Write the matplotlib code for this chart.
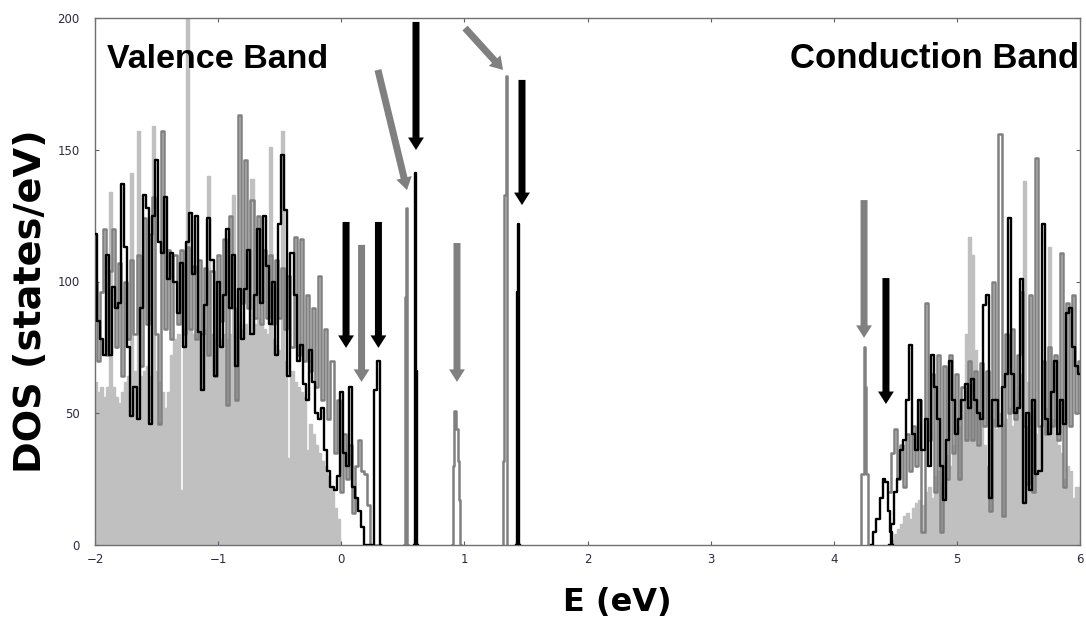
import numpy as np
import matplotlib
matplotlib.use('Agg')
import matplotlib.pyplot as plt

# energy grid step (eV) used for the band regions
e_step = 0.025
vb_e0 = -2.0
cb_e0 = 4.45

# valence band DOS (states/eV)
black_vb = [118, 85, 78, 72, 110, 72, 98, 90, 92, 137, 113, 75, 49, 60, 48, 90,
            133, 128, 46, 125, 146, 115, 111, 132, 101, 111, 100, 88, 107, 75, 115, 126,
            103, 125, 81, 59, 91, 124, 108, 64, 100, 75, 95, 120, 90, 110, 68, 97,
            78, 97, 112, 80, 95, 120, 92, 125, 106, 84, 100, 72, 122, 148, 127,
            64, 111, 95, 70, 76, 61, 55, 74, 62, 50, 48, 52, 36, 28, 22, 21,
            26, 58, 35, 30, 60, 22, 18, 13, 7, 0, 0, 0, 59, 70, 0]
gray_vb = [100, 70, 96, 120, 72, 104, 120, 75, 107, 64, 100, 78, 108, 80, 110, 68,
           124, 84, 118, 132, 80, 46, 157, 82, 112, 78, 110, 84, 112, 80, 113, 82,
           106, 78, 108, 80, 105, 72, 104, 64, 110, 85, 116, 53, 125, 90, 55, 163,
           92, 146, 90, 131, 86, 125, 84, 112, 86, 110, 84, 108, 86, 105, 82,
           102, 75, 117, 72, 116, 70, 95, 66, 90, 60, 102, 55, 82, 48, 70, 35,
           55, 20, 42, 25, 38, 12, 30, 40, 28, 27, 15, 0, 0, 0, 0]
light_vb = [62, 58, 60, 56, 60, 134, 60, 56, 54, 58, 62, 64, 141, 66, 157, 64,
            66, 68, 64, 159, 66, 62, 58, 52, 58, 72, 78, 80, 21, 82, 205, 82,
            80, 82, 78, 80, 82, 140, 80, 78, 76, 78, 80, 78, 80, 133, 82, 84,
            82, 84, 80, 139, 84, 86, 84, 82, 80, 151, 78, 76, 74, 157, 70,
            33, 66, 62, 60, 58, 56, 36, 46, 42, 38, 35, 32, 30, 26, 22, 14, 10, 0]

# conduction band DOS
black_cb = [0, 8, 20, 25, 36, 40, 55, 76, 42, 36, 55, 36, 48, 30, 72, 60, 48, 30, 17, 40,
            70, 55, 42, 48, 55, 61, 52, 63, 55, 50, 48, 91, 95, 18, 55, 55, 45, 60, 65, 124,
            65, 50, 52, 101, 16, 50, 21, 55, 27, 28, 122, 48, 42, 58, 70, 42, 55, 46, 88, 90,
            75, 68, 65]
gray_cb = [20, 35, 44, 25, 38, 22, 42, 28, 45, 30, 55, 5, 92, 40, 65, 20, 72, 5, 68, 25,
           72, 35, 65, 25, 60, 40, 70, 40, 66, 38, 69, 45, 66, 13, 100, 45, 156, 11, 80, 50,
           82, 48, 72, 96, 45, 23, 95, 20, 147, 45, 70, 42, 75, 45, 72, 40, 111, 22, 92, 45,
           95, 50, 70]
light_cb = [0, 2, 4, 6, 8, 11, 12, 10, 14, 16, 17, 15, 20, 22, 18, 26, 28, 24, 32, 34,
            30, 38, 42, 45, 55, 80, 117, 110, 74, 55, 48, 38, 30, 44, 48, 44, 50, 46, 48, 52,
            45, 55, 60, 65, 138, 62, 55, 50, 42, 45, 48, 52, 113, 48, 42, 38, 35, 25, 30, 28,
            18, 22, 22]

# isolated gap states
gray_p1_e = [0.51, 0.52, 0.53, 0.54]
gray_p1 = [0, 94, 128, 0]
gray_p2_e = [0.90, 0.91, 0.92, 0.93, 0.94, 0.95, 0.96, 0.97]
gray_p2 = [0, 30, 51, 51, 44, 32, 17, 0]
gray_p3_e = [1.31, 1.32, 1.33, 1.34, 1.35]
gray_p3 = [0, 32, 133, 178, 0]
gray_p4_e = [4.22, 4.23, 4.24, 4.25, 4.26, 4.27, 4.28]
gray_p4 = [0, 27, 27, 75, 60, 27, 0]
black_p1_e = [0.59, 0.60, 0.61, 0.62]
black_p1 = [0, 141, 66, 0]
black_p2_e = [1.42, 1.43, 1.44, 1.45]
black_p2 = [0, 96, 122, 0]
black_p3_e = [4.30, 4.33, 4.36, 4.39, 4.41, 4.43, 4.45, 4.47, 4.48]
black_p3 = [0, 5, 10, 18, 25, 24, 13, 5, 0]

# arrows: (x_tail, y_tail, x_tip, y_tip)
black_arrows = [(0.039, 122.6, 0.039, 74.8), (0.302, 122.6, 0.302, 74.8),
                (0.607, 198.5, 0.607, 149.9), (1.468, 176.5, 1.468, 129.0),
                (4.424, 101.3, 4.424, 53.5)]
gray_arrows = [(0.165, 113.9, 0.165, 61.9), (0.94, 114.6, 0.94, 61.9),
               (0.298, 180.3, 0.534, 134.7), (1.005, 196.2, 1.314, 180.3),
               (4.246, 130.9, 4.246, 78.6)]

LIGHT = '#c0c0c0'
GRAY = '#808080'
BLACK = '#000000'


def grid(e0, vals):
    return np.round(e0 + e_step * np.arange(len(vals)), 4)


fig = plt.figure(figsize=(10.86, 6.17), dpi=100)
ax = fig.add_axes([95 / 1086, 72 / 617, 985 / 1086, 527 / 617])

# light gray (filled)
for e, v in [(grid(vb_e0, light_vb), light_vb), (grid(cb_e0, light_cb), light_cb)]:
    ax.fill_between(e, v, step='mid', color=LIGHT, lw=0, zorder=1)
    ax.plot(e, v, drawstyle='steps-mid', color=LIGHT, lw=1.0, zorder=1)

# dark gray
for e, v in [(grid(vb_e0, gray_vb), gray_vb), (grid(cb_e0, gray_cb), gray_cb),
             (gray_p1_e, gray_p1), (gray_p2_e, gray_p2), (gray_p3_e, gray_p3),
             (gray_p4_e, gray_p4)]:
    ax.plot(e, v, drawstyle='steps-mid', color=GRAY, lw=1.8, zorder=2)

# black
for e, v in [(grid(vb_e0, black_vb), black_vb), (grid(cb_e0, black_cb), black_cb),
             (black_p1_e, black_p1), (black_p2_e, black_p2), (black_p3_e, black_p3)]:
    ax.plot(e, v, drawstyle='steps-mid', color=BLACK, lw=1.7, zorder=3)

for arrows, col in [(black_arrows, BLACK), (gray_arrows, GRAY)]:
    for x0, y0, x1, y1 in arrows:
        ax.annotate('', xy=(x1, y1), xytext=(x0, y0),
                    arrowprops=dict(arrowstyle='simple,head_length=0.75,head_width=0.95,tail_width=0.42',
                                    color=col, lw=0, shrinkA=0, shrinkB=0,
                                    mutation_scale=12), zorder=4)

ax.set_xlim(-2, 6)
ax.set_ylim(0, 200)
ax.set_xticks(range(-2, 7))
ax.set_yticks([0, 50, 100, 150, 200])
ax.tick_params(direction='in', length=3, width=0.8, color='#606060',
               top=True, right=True, labelsize=8.5, labelcolor='#2b2b3f')
ax.tick_params(axis='x', pad=6)
ax.tick_params(axis='y', pad=11)
for s in ax.spines.values():
    s.set_color('#707070')
    s.set_linewidth(1.0)

ax.text(-1.9, 181, 'Valence Band', fontsize=24.5, fontweight='bold',
        family='Liberation Sans', va='baseline', ha='left')
ax.text(5.995, 181, 'Conduction Band', fontsize=25, fontweight='bold',
        family='Liberation Sans', va='baseline', ha='right')

fig.text(617 / 1086, (617 - 603) / 617, 'E (eV)', fontsize=23, fontweight='bold',
         family='DejaVu Sans', ha='center', va='center')
fig.text(31 / 1086, (617 - 301) / 617, 'DOS (states/eV)', fontsize=27.5, fontweight='bold',
         family='DejaVu Sans', ha='center', va='center', rotation=90)

fig.savefig('out.png', dpi=100)
